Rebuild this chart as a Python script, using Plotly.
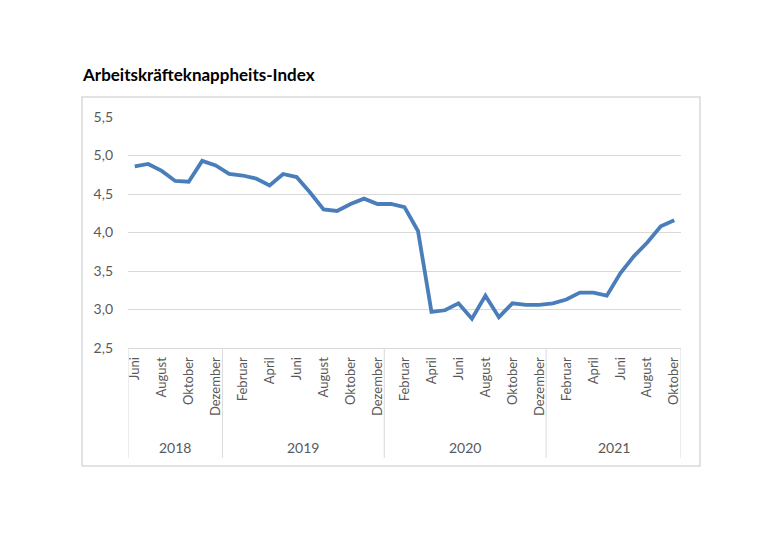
import plotly.graph_objects as go

months = ["Juni", "Juli", "August", "September", "Oktober", "November", "Dezember",
          "Januar", "Februar", "März", "April", "Mai", "Juni", "Juli", "August", "September", "Oktober", "November", "Dezember",
          "Januar", "Februar", "März", "April", "Mai", "Juni", "Juli", "August", "September", "Oktober", "November", "Dezember",
          "Januar", "Februar", "März", "April", "Mai", "Juni", "Juli", "August", "September", "Oktober"]
years = ["2018", "2019", "2020", "2021"]
year_counts = [7, 12, 12, 10]
values = [4.86, 4.89, 4.80, 4.67, 4.66, 4.93, 4.87,
          4.76, 4.74, 4.70, 4.61, 4.76, 4.72, 4.52, 4.30, 4.28, 4.37, 4.44, 4.37,
          4.37, 4.33, 4.02, 2.97, 2.99, 3.08, 2.88, 3.18, 2.90, 3.08, 3.06, 3.06,
          3.08, 3.13, 3.22, 3.22, 3.18, 3.47, 3.69, 3.87, 4.08, 4.16]
title = "Arbeitskräfteknappheits-Index"

W, H = 770, 559
L, R, T, B = 128, 681, 117, 348
gray = "#595959"
grid = "#d9d9d9"

x = list(range(len(values)))
fig = go.Figure()
fig.add_trace(go.Scatter(x=x, y=values, mode="lines",
                         line=dict(color="#4a7ebb", width=3.8), hoverinfo="skip"))

tickvals = x[::2]
ticktext = [months[i] for i in tickvals]

def px_to_paper_x(px):
    return (px - L) / (R - L)

def px_to_paper_y(py):
    return (B - py) / (B - T)

shapes = []
shapes.append(dict(type="rect", xref="paper", yref="paper",
                   x0=px_to_paper_x(82), x1=px_to_paper_x(700),
                   y0=px_to_paper_y(466), y1=px_to_paper_y(97),
                   line=dict(color=grid, width=1.5), layer="below"))
bounds = [-0.5]
for c in year_counts:
    bounds.append(bounds[-1] + c)
for b in bounds:
    shapes.append(dict(type="line", xref="x", yref="paper", x0=b, x1=b,
                       y0=0, y1=px_to_paper_y(458), line=dict(color=grid, width=1)))

annotations = []
for i, yr in enumerate(years):
    cx = (bounds[i] + bounds[i + 1]) / 2
    annotations.append(dict(x=cx, y=px_to_paper_y(447), xref="x", yref="paper",
                            text=yr, showarrow=False,
                            font=dict(family="Lato, Open Sans, sans-serif", size=14, color=gray),
                            xanchor="center", yanchor="middle"))
annotations.append(dict(x=px_to_paper_x(80), y=px_to_paper_y(75), xref="paper", yref="paper",
                        text="<b>" + title + "</b>", showarrow=False,
                        font=dict(family="Lato, Open Sans, sans-serif", size=17, color="#000000"),
                        xanchor="left", yanchor="middle"))

fig.update_layout(
    width=W, height=H,
    margin=dict(l=L, r=W - R, t=T, b=H - B, pad=0),
    paper_bgcolor="white", plot_bgcolor="white",
    showlegend=False,
    shapes=shapes, annotations=annotations,
    xaxis=dict(range=[-0.5, len(values) - 0.5], tickmode="array",
               tickvals=tickvals, ticktext=ticktext, tickangle=-90,
               showgrid=False, zeroline=False, showline=True, linecolor=grid, linewidth=1,
               ticks="", ticklabelstandoff=3,
               tickfont=dict(family="Lato, Open Sans, sans-serif", size=13, color=gray)),
    yaxis=dict(range=[2.5, 5.5], dtick=0.5, tickformat=".1f",
               showgrid=True, gridcolor=grid, gridwidth=1, zeroline=False,
               showline=False, ticks="", ticklabelstandoff=14,
               tickfont=dict(family="Lato, Open Sans, sans-serif", size=14, color=gray)),
    separators=",.",
)

fig.write_html("out.html")
